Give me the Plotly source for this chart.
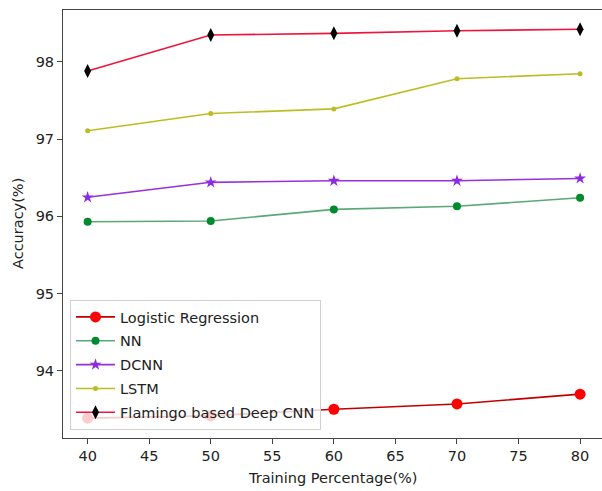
import plotly.graph_objects as go

training_pct = [40, 50, 60, 70, 80]
logistic_regression = [93.39, 93.42, 93.505, 93.573, 93.70]
nn = [95.93, 95.94, 96.09, 96.13, 96.24]
dcnn = [96.246, 96.44, 96.46, 96.46, 96.49]
lstm = [97.107, 97.33, 97.39, 97.78, 97.845]
flamingo_cnn = [97.88, 98.345, 98.367, 98.40, 98.42]

x_ticks = [40, 45, 50, 55, 60, 65, 70, 75, 80]
y_ticks = [94, 95, 96, 97, 98]

FONT = "DejaVu Sans"
FS = 14.5

series = [
    ("Logistic Regression", logistic_regression, "#c00000", "#ff0000", "circle", 11),
    ("NN", nn, "#5aa878", "#008a2e", "circle", 8),
    ("DCNN", dcnn, "#9a30d8", "#8a2be2", "star", 9),
    ("LSTM", lstm, "#bcbd22", "#bcbd22", "circle", 5),
    ("Flamingo based Deep CNN", flamingo_cnn, "#f0143c", "#000000", "diamond-tall", 10),
]

fig = go.Figure()
for i, (name, vals, lc, mc, sym, ms) in enumerate(series):
    fig.add_trace(go.Scatter(
        x=training_pct, y=vals, name=name, mode="lines+markers",
        legendgroup=f"g{i}",
        line=dict(color=lc, width=1.6),
        marker=dict(color=mc, symbol=sym, size=ms, line=dict(width=0)),
    ))

axis_common = dict(
    showgrid=False, zeroline=False, showline=True, linecolor="#444", linewidth=1,
    ticks="outside", ticklen=5, tickwidth=1, tickcolor="#444",
    tickfont=dict(family=FONT, size=FS, color="#222"),
)

fig.update_layout(
    width=602, height=491,
    margin=dict(l=63, r=0, t=10, b=53),
    paper_bgcolor="white", plot_bgcolor="white",
    font=dict(family=FONT, size=FS, color="#222"),
    showlegend=True,
    legend=dict(
        x=0.013, y=0.0187, xanchor="left", yanchor="bottom",
        bgcolor="rgba(255,255,255,0.8)", bordercolor="#d0d0d0", borderwidth=1,
        font=dict(family=FONT, size=FS, color="#222"),
        tracegroupgap=2, itemwidth=39,
    ),
    xaxis=dict(range=[38.0, 81.78], tickvals=x_ticks, mirror=True, **axis_common),
    yaxis=dict(range=[93.133, 98.669], tickvals=y_ticks, mirror=False, **axis_common),
    annotations=[
        dict(text="Training Percentage(%)", x=0.5, y=0, xref="paper", yref="paper",
             xanchor="center", yanchor="middle", yshift=-40, showarrow=False,
             font=dict(family=FONT, size=FS, color="#222")),
        dict(text="Accuracy(%)", x=0, y=0.5, xref="paper", yref="paper",
             xanchor="center", yanchor="middle", xshift=-45, textangle=-90, showarrow=False,
             font=dict(family=FONT, size=FS, color="#222")),
    ],
)

fig.write_html("out.html", config={"displayModeBar": False})

with open("out.html", "r", encoding="utf-8") as f:
    html = f.read()
html = html.replace("<head>", "<head><style>html,body{margin:0;padding:0;overflow:hidden;}</style>", 1)
with open("out.html", "w", encoding="utf-8") as f:
    f.write(html)
